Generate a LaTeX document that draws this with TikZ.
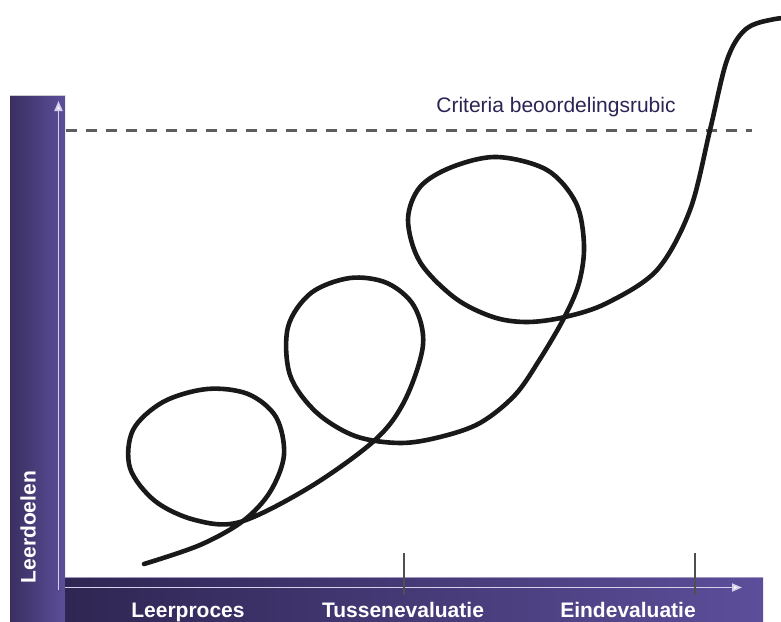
\documentclass[tikz,border=0pt]{standalone}
\usepackage{fontspec}
\setmainfont{Liberation Sans}
\usetikzlibrary{arrows.meta}
\definecolor{bardark}{HTML}{2F2653}
\definecolor{barmid}{HTML}{3A2F60}
\definecolor{barlight}{HTML}{5C4E9A}
\definecolor{axisline}{HTML}{D6D0EA}
\definecolor{critcol}{HTML}{2B2455}
\definecolor{dashcol}{HTML}{5E5E5E}
\definecolor{tickcol}{HTML}{505050}
\tikzset{
  barlabel/.style={font=\bfseries\fontsize{21}{23}\selectfont, text=white, inner sep=0pt},
  axisarrow/.style={draw=axisline, line width=1.8pt, -{Triangle[length=10pt,width=8pt,fill=white]}},
  ticker/.style={draw=tickcol, line width=1.6pt},
  pathline/.style={draw=black!90, line width=4.6pt, line cap=round, line join=round},
  critline/.style={draw=dashcol, line width=3pt, dash pattern=on 11pt off 9pt}
}
\begin{document}
\begin{tikzpicture}[x=1pt,y=-1pt]
\useasboundingbox (0,0) rectangle (781,621);
\fill[white] (0,0) rectangle (781,621);
\begin{scope}
\clip (0,0) rectangle (781,621);
% bars
\fill[left color=barmid, right color=barlight] (10,95) rectangle (65,621);
\draw[draw=black!20, line width=0.8pt] (10,95) -- (65,95);
\fill[left color=bardark, right color=barlight] (65,577) rectangle (763,621);
\draw[draw=barlight!60!white, line width=0.6pt] (65,577) -- (763,577);
% axes
\coordinate (ybot) at (58.5,590);
\coordinate (ytop) at (58.5,101);
\coordinate (xleft) at (65,587.5);
\coordinate (xright) at (742,587.5);
\draw[axisarrow] (ybot) -- (ytop);
\draw[axisarrow] (xleft) -- (xright);
% criteria dashed line
\coordinate (dl) at (66,130);
\coordinate (dr) at (752,130);
\draw[critline] (dl) -- (dr);
\node[font=\fontsize{21}{24}\selectfont, text=critcol, anchor=base, inner sep=0pt] (crit) at (556,112) {Criteria beoordelingsrubic};
% learning curve
\draw[pathline] plot[smooth, tension=0.55] coordinates {
 (144,564) (200,545) (243,521) (270,492) (284,455) (276,417) (248,394) (207,389)
 (163,402) (133,430) (130,468) (155,501) (195,520) (240,522)
 (310,487) (375,440) (405,400) (423,345) (414,306) (387,283) (350,278)
 (311,293) (288,327) (290,375) (316,412) (355,436) (400,443) (440,437) (480,423)
 (515,395) (540,359) (564,318) (579,283) (584,245) (576,203) (547,170) (497,157)
 (452,167) (420,187) (408,220) (420,262) (455,298) (493,317) (527,322) (565,317)
 (607,303) (657,270) (690,210) (710,130) (727,60) (746,29) (775,19) (800,18)
};
% ticks
\coordinate (t1a) at (404,553); \coordinate (t1b) at (404,595);
\coordinate (t2a) at (695,553); \coordinate (t2b) at (695,595);
\draw[ticker] (t1a) -- (t1b);
\draw[ticker] (t2a) -- (t2b);
% labels
\node[barlabel, anchor=base] (lp) at (188,617) {Leerproces};
\node[barlabel, anchor=base] (te) at (403,617) {Tussenevaluatie};
\node[barlabel, anchor=base] (ee) at (628,617) {Eindevaluatie};
\node[barlabel, rotate=90] (ld) at (28,527) {Leerdoelen};
\end{scope}
\end{tikzpicture}
\end{document}
